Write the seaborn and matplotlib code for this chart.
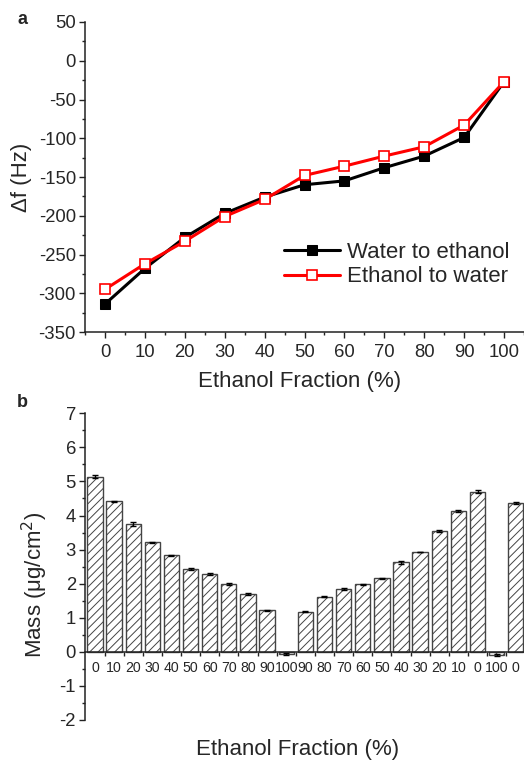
import numpy as np
import pandas as pd
import matplotlib
matplotlib.use("Agg")
import matplotlib.pyplot as plt
import seaborn as sns
from matplotlib.ticker import MultipleLocator, FixedLocator

sns.set_style("ticks")
plt.rcParams['font.family'] = ['Liberation Sans', 'DejaVu Sans']
plt.rcParams['axes.unicode_minus'] = False
plt.rcParams['hatch.color'] = '#555555'
plt.rcParams['hatch.linewidth'] = 0.7

# ---- Panel a data ----
fraction = [0, 10, 20, 30, 40, 50, 60, 70, 80, 90, 100]
water_to_ethanol = [-314, -268, -228, -197, -176, -160, -155, -138, -123, -99, -27]
ethanol_to_water = [-295, -262, -233, -201, -179, -148, -136, -123, -111, -83, -27]

# ---- Panel b data ----
b_labels = ['0', '10', '20', '30', '40', '50', '60', '70', '80', '90', '100',
            '90', '80', '70', '60', '50', '40', '30', '20', '10', '0', '100', '0']
mass = [5.14, 4.42, 3.75, 3.21, 2.83, 2.43, 2.29, 1.99, 1.70, 1.22, -0.06,
        1.18, 1.62, 1.84, 1.98, 2.16, 2.63, 2.93, 3.55, 4.13, 4.70, -0.10, 4.38]
mass_err = [0.05, 0.02, 0.05, 0.01, 0.02, 0.03, 0.03, 0.03, 0.04, 0.02, 0.03,
            0.02, 0.01, 0.02, 0.01, 0.02, 0.04, 0.01, 0.03, 0.03, 0.04, 0.03, 0.03]

W, H = 524, 761
fig = plt.figure(figsize=(W / 100, H / 100), dpi=100)

def fx(px):
    return px / W

def fy(py):
    return 1 - py / H

# ---------------- Panel a ----------------
ax1 = fig.add_axes([fx(85), fy(332), fx(524) - fx(85), fy(22) - fy(332)])
df_a = pd.DataFrame({'x': fraction, 'w2e': water_to_ethanol, 'e2w': ethanol_to_water})
sns.lineplot(data=df_a, x='x', y='w2e', ax=ax1, color='black', lw=2.2, marker='s',
             markersize=7.5, markerfacecolor='black', markeredgecolor='black',
             label='Water to ethanol')
sns.lineplot(data=df_a, x='x', y='e2w', ax=ax1, color='#ff0000', lw=2.2, marker='s',
             markersize=7.5, markerfacecolor='white', markeredgecolor='#ff0000',
             markeredgewidth=1.2, label='Ethanol to water')
ax1.set_xlim(-5, 105)
ax1.set_ylim(-350, 50)
ax1.xaxis.set_major_locator(MultipleLocator(10))
ax1.xaxis.set_minor_locator(MultipleLocator(5))
ax1.yaxis.set_major_locator(MultipleLocator(50))
ax1.yaxis.set_minor_locator(MultipleLocator(25))
ax1.set_xlabel('')
ax1.set_ylabel('')
for sp in ['top', 'right']:
    ax1.spines[sp].set_visible(False)
for sp in ['left', 'bottom']:
    ax1.spines[sp].set_linewidth(1.1)
    ax1.spines[sp].set_color('#222222')
ax1.tick_params(axis='both', which='major', length=4, width=1, direction='out',
                labelsize=13.3, color='#222222')
ax1.tick_params(axis='both', which='minor', length=2.2, width=1, direction='out',
                color='#222222')
ax1.tick_params(axis='y', pad=2.5)
ax1.tick_params(axis='x', pad=4.5)
leg = ax1.legend(loc='upper left', bbox_to_anchor=(fx(284), fy(242)),
                 bbox_transform=fig.transFigure, frameon=False, fontsize=16,
                 handlelength=2.5, handletextpad=0.35, labelspacing=0.15,
                 borderaxespad=0, borderpad=0)

fig.text(fx(22), fy(177), 'Δf (Hz)', rotation=90, ha='center', va='center', fontsize=16)
fig.text(fx(300), fy(381), 'Ethanol Fraction (%)', ha='center', va='center', fontsize=16)
fig.text(fx(22), fy(19), 'a', ha='center', va='center', fontsize=13, fontweight='bold')

# ---------------- Panel b ----------------
ax2 = fig.add_axes([fx(85), fy(720), fx(524) - fx(85), fy(413.3) - fy(720)])
pos = np.arange(len(mass))
df_b = pd.DataFrame({'pos': pos, 'mass': mass})
sns.barplot(data=df_b, x='pos', y='mass', ax=ax2, color='white', width=0.8,
            edgecolor='#444444', linewidth=1.0, errorbar=None)
for p in ax2.patches:
    p.set_hatch('////')
    p.set_facecolor('white')
ax2.errorbar(pos, mass, yerr=mass_err, fmt='none', ecolor='black', elinewidth=1.0,
             capsize=2.5, capthick=1.0)
ax2.set_xlim(-0.52, 22.43)
ax2.set_ylim(-2, 7)
ax2.yaxis.set_major_locator(MultipleLocator(1))
ax2.yaxis.set_minor_locator(MultipleLocator(0.5))
ax2.set_xticks(pos)
ax2.set_xticklabels(b_labels)
ax2.xaxis.set_minor_locator(FixedLocator(pos[:-1] + 0.5))
ax2.set_xlabel('')
ax2.set_ylabel('')
for sp in ['top', 'right']:
    ax2.spines[sp].set_visible(False)
ax2.spines['bottom'].set_position(('data', 0))
for sp in ['left', 'bottom']:
    ax2.spines[sp].set_linewidth(1.1)
    ax2.spines[sp].set_color('#222222')
ax2.tick_params(axis='y', which='major', length=4, width=1, direction='out',
                labelsize=13.3, pad=2.5, color='#222222')
ax2.tick_params(axis='y', which='minor', length=2.2, width=1, direction='out',
                color='#222222')
ax2.tick_params(axis='x', which='major', length=0, labelsize=10.2, pad=6.5)
ax2.tick_params(axis='x', which='minor', length=3, width=1, direction='out',
                color='#222222')

fig.text(fx(35), fy(585), 'Mass (μg/cm$^2$)', rotation=90, ha='center', va='center',
         fontsize=16)
fig.text(fx(298), fy(750), 'Ethanol Fraction (%)', ha='center', va='center', fontsize=16)
fig.text(fx(22), fy(402), 'b', ha='center', va='center', fontsize=13, fontweight='bold')

fig.savefig('out.png', dpi=100)
